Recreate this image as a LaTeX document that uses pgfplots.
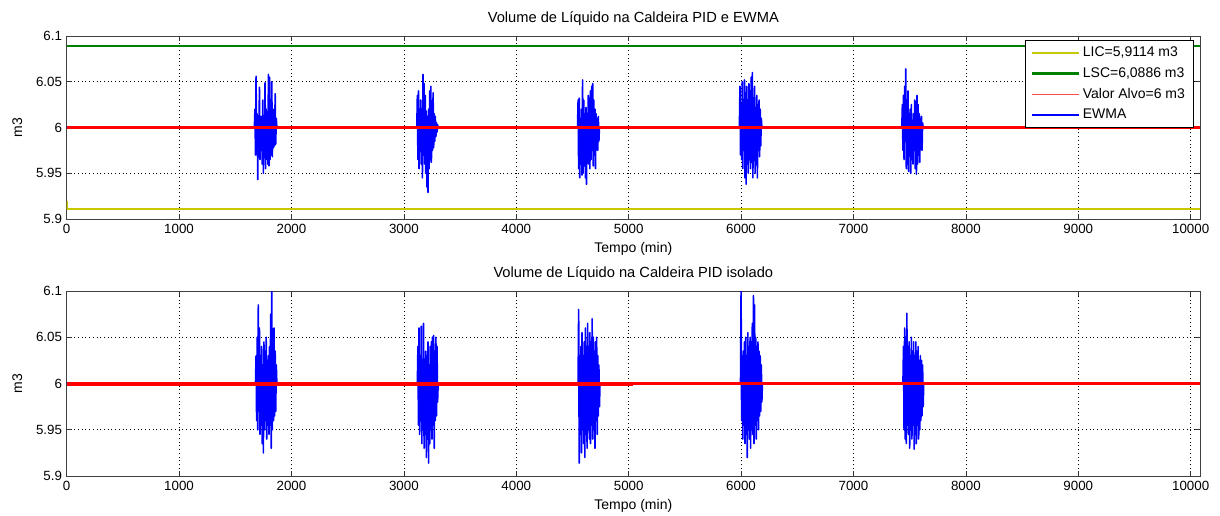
\documentclass[border=0pt]{standalone}
\usepackage{fontspec}
\setmainfont{Liberation Sans}
\usepackage{pgfplots}
\pgfplotsset{compat=1.18}
\definecolor{myyellow}{RGB}{200,200,0}
\definecolor{mygreen}{RGB}{0,128,0}
\pgfplotsset{
 mystyle/.style={
  width=850pt, scale only axis,
  xmin=0, xmax=10083, ymin=5.9, ymax=6.1,
  xtick={0,1000,...,10000}, ytick={5.9,5.95,6,6.05,6.1},
  scaled x ticks=false, scaled y ticks=false,
  /pgf/number format/1000 sep={}, /pgf/number format/assume math mode=true,
  tick align=inside, major tick length=4pt,
  tick style={black!80, line width=0.5pt},
  grid=major, grid style={black, line width=0.5pt, dash pattern=on 0.6pt off 2.2pt},
  axis line style={black!75, line width=0.6pt},
  ticklabel style={font=\fontsize{10}{12}\selectfont},
  xlabel={Tempo (min)}, ylabel={m3},
  xlabel style={font=\fontsize{10.5}{12}\selectfont, at={(axis description cs:0.5,0)}, anchor=center, yshift=-22.5pt},
  ylabel style={font=\fontsize{10.5}{12}\selectfont, at={(axis description cs:-0.0435,0.5)}, anchor=center},
  title style={font=\fontsize{11}{13}\selectfont, at={(axis description cs:0.5,1)}, anchor=south, yshift=-1.5pt},
  legend image code/.code={\draw[##1] (0pt,0pt) -- (35pt,0pt);},
  ewma/.style={color=blue, line width=1.2pt, line join=round},
 }
}
\begin{document}
\begin{tikzpicture}
\useasboundingbox (0,0) rectangle (915pt,386.25pt);
\begin{axis}[mystyle, at={(50pt,222pt)}, anchor=south west, height=137.25pt,
  title={Volume de Líquido na Caldeira PID e EWMA},
  legend style={at={(axis description cs:1,1)}, anchor=north east, xshift=-4.5pt, yshift=-3pt,
    font=\fontsize{10.5}{12}\selectfont, draw=black, line width=0.6pt, row sep=2.6pt, inner xsep=4.5pt, inner ysep=3pt},
  legend cell align=left]
\addplot[myyellow, line width=1.6pt] coordinates {(0,5.92) (0,5.9114) (10083,5.9114)};
\addlegendentry{LIC=5,9114 m3}
\addplot[mygreen, line width=1.6pt] coordinates {(0,6.0886) (10083,6.0886)};
\addlegendentry{LSC=6,0886 m3}
\addplot[ewma, forget plot] coordinates {
(0,6.000)
(1670,6.000) (1675,6.020) (1680,5.970) (1685,6.056) (1690,5.975) (1695,6.015) (1700,5.943) (1705,6.010)
(1710,5.985) (1715,6.044) (1720,5.965) (1725,6.012) (1730,5.975) (1735,6.012) (1740,5.960) (1745,6.030)
(1750,5.950) (1755,6.012) (1760,5.972) (1765,6.049) (1770,5.955) (1775,6.020) (1780,5.968) (1785,6.000)
(1790,5.960) (1795,6.058) (1800,5.958) (1805,6.055) (1810,5.965) (1815,6.018) (1820,5.970) (1825,6.050)
(1830,5.968) (1835,6.015) (1840,5.978) (1845,6.020) (1850,5.980) (1855,6.037) (1860,5.982) (1865,6.010)
(1870,6.000)
(3115,6.000) (3120,6.035) (3125,5.965) (3130,6.040) (3135,5.955) (3140,6.020) (3145,5.975) (3150,6.030)
(3155,5.960) (3160,6.010) (3165,5.945) (3170,6.058) (3175,5.970) (3180,6.048) (3185,5.960) (3190,6.035)
(3195,5.950) (3200,6.018) (3205,5.935) (3210,6.012) (3215,5.929) (3220,6.020) (3225,5.955) (3230,6.040)
(3235,5.965) (3240,6.045) (3245,5.962) (3250,6.025) (3255,5.975) (3260,6.038) (3265,5.978) (3270,6.015)
(3275,5.985) (3280,6.012) (3285,5.990) (3290,6.005) (3295,5.995) (3300,6.003) (3305,6.000)
(4545,6.000) (4550,6.030) (4555,5.955) (4560,6.032) (4565,5.945) (4570,6.010) (4575,5.960) (4580,6.020)
(4585,5.948) (4590,6.052) (4595,5.950) (4600,6.030) (4605,5.965) (4610,6.015) (4615,5.945) (4620,6.022)
(4625,5.938) (4630,6.010) (4635,5.970) (4640,6.035) (4645,5.960) (4650,6.032) (4655,5.955) (4660,6.040)
(4665,5.965) (4670,6.045) (4675,5.975) (4680,6.048) (4685,5.958) (4690,6.030) (4695,5.970) (4700,6.020)
(4705,5.955) (4710,6.015) (4715,5.978) (4720,6.010) (4725,5.975) (4730,6.012) (4735,5.985) (4740,6.000)
(5985,6.000) (5990,6.045) (5995,5.970) (6000,6.010) (6005,5.965) (6010,6.050) (6015,5.955) (6020,6.020)
(6025,5.975) (6030,6.052) (6035,5.945) (6040,6.038) (6045,5.938) (6050,6.045) (6055,5.960) (6060,6.030)
(6065,5.950) (6070,6.048) (6075,5.965) (6080,6.040) (6085,5.955) (6090,6.055) (6095,5.962) (6100,6.060)
(6105,5.945) (6110,6.030) (6115,5.965) (6120,6.045) (6125,5.950) (6130,6.020) (6135,5.970) (6140,6.035)
(6145,5.945) (6150,6.025) (6155,5.975) (6160,6.030) (6165,5.968) (6170,6.020) (6175,5.980) (6180,6.010)
(6185,6.000)
(7430,6.000) (7435,6.025) (7440,5.975) (7445,6.035) (7450,5.965) (7455,6.045) (7460,5.985) (7465,6.064)
(7470,5.955) (7475,6.030) (7480,5.960) (7485,6.040) (7490,5.952) (7495,6.015) (7500,5.975) (7505,6.020)
(7510,5.950) (7515,6.025) (7520,5.965) (7525,6.005) (7530,5.960) (7535,6.015) (7540,5.975) (7545,6.030)
(7550,5.955) (7555,6.028) (7560,5.949) (7565,6.035) (7570,5.960) (7575,6.025) (7580,5.970) (7585,6.015)
(7590,5.962) (7595,6.010) (7600,5.980) (7605,6.012) (7610,5.975) (7615,6.005) (7620,6.000)
(10083,6.000)};
\addplot[red, line width=2pt, forget plot] coordinates {(0,6) (10083,6)};
\addlegendimage{red!70, line width=1pt}
\addlegendentry{Valor Alvo=6 m3}
\addlegendimage{blue, line width=0.9pt}
\addlegendentry{EWMA}
\end{axis}
\begin{axis}[mystyle, at={(50pt,29.25pt)}, anchor=south west, height=138.75pt,
  title={Volume de Líquido na Caldeira PID isolado}]
\addplot[ewma] coordinates {
(0,6.000)
(1680,6.000) (1685,6.030) (1690,5.960) (1695,6.050) (1700,5.950) (1705,6.085) (1710,5.970) (1715,6.060)
(1720,5.945) (1725,6.030) (1730,5.955) (1735,6.040) (1740,5.935) (1745,6.020) (1750,5.925) (1755,6.045)
(1760,5.950) (1765,6.035) (1770,5.960) (1775,6.050) (1780,5.940) (1785,6.025) (1790,5.955) (1795,6.030)
(1800,5.945) (1805,6.040) (1810,5.955) (1815,6.075) (1820,5.930) (1825,6.100) (1830,5.950) (1835,6.040)
(1840,5.960) (1845,6.060) (1850,5.965) (1855,6.035) (1860,5.970) (1865,6.020) (1870,6.000)
(3120,6.000) (3125,6.040) (3130,5.955) (3135,6.060) (3140,5.945) (3145,6.030) (3150,5.960) (3155,6.062)
(3160,5.935) (3165,6.025) (3170,5.950) (3175,6.065) (3180,5.930) (3185,6.020) (3190,5.945) (3195,6.035)
(3200,5.920) (3205,6.030) (3210,5.940) (3215,6.045) (3220,5.914) (3225,6.020) (3230,5.935) (3235,6.040)
(3240,5.950) (3245,6.045) (3250,5.940) (3255,6.050) (3260,5.955) (3265,6.052) (3270,5.930) (3275,6.035)
(3280,5.960) (3285,6.050) (3290,5.965) (3295,6.040) (3300,5.980) (3305,6.000)
(4550,6.000) (4555,6.080) (4560,5.914) (4565,6.030) (4570,5.945) (4575,6.040) (4580,5.925) (4585,6.055)
(4590,5.950) (4595,6.030) (4600,5.935) (4605,6.045) (4610,5.920) (4615,6.060) (4620,5.945) (4625,6.035)
(4630,5.930) (4635,6.065) (4640,5.950) (4645,6.040) (4650,5.940) (4655,6.055) (4660,5.935) (4665,6.045)
(4670,5.955) (4675,6.070) (4680,5.940) (4685,6.050) (4690,5.950) (4695,6.035) (4700,5.930) (4705,6.045)
(4710,5.960) (4715,6.050) (4720,5.945) (4725,6.030) (4730,5.965) (4735,6.020) (4740,5.975) (4745,6.000)
(5995,6.000) (6000,6.100) (6005,5.960) (6010,6.020) (6015,5.940) (6020,6.035) (6025,5.955) (6030,6.045)
(6035,5.935) (6040,6.050) (6045,5.945) (6050,6.030) (6055,5.920) (6060,6.055) (6065,5.950) (6070,6.040)
(6075,5.940) (6080,6.050) (6085,5.930) (6090,6.045) (6095,5.950) (6100,6.065) (6105,5.945) (6110,6.095)
(6115,5.935) (6120,6.085) (6125,5.955) (6130,6.050) (6135,5.940) (6140,6.040) (6145,5.960) (6150,6.045)
(6155,5.950) (6160,6.035) (6165,5.965) (6170,6.030) (6175,5.970) (6180,6.020) (6185,5.980) (6190,6.000)
(7440,6.000) (7445,6.040) (7450,5.950) (7455,6.060) (7460,5.940) (7465,6.050) (7470,5.935) (7475,6.076)
(7480,5.955) (7485,6.040) (7490,5.945) (7495,6.045) (7500,5.930) (7505,6.030) (7510,5.950) (7515,6.050)
(7520,5.940) (7525,6.035) (7530,5.955) (7535,6.045) (7540,5.929) (7545,6.030) (7550,5.945) (7555,6.045)
(7560,5.935) (7565,6.035) (7570,5.955) (7575,6.040) (7580,5.940) (7585,6.025) (7590,5.950) (7595,6.030)
(7600,5.960) (7605,6.025) (7610,5.965) (7615,6.020) (7620,5.975) (7625,6.000)
(10083,6.000)};
\addplot[red, line width=1.6pt] coordinates {(0,6) (10083,6)};
\addplot[red, line width=2pt] coordinates {(0,5.9985) (5040,5.9985)};
\end{axis}
\end{tikzpicture}
\end{document}
